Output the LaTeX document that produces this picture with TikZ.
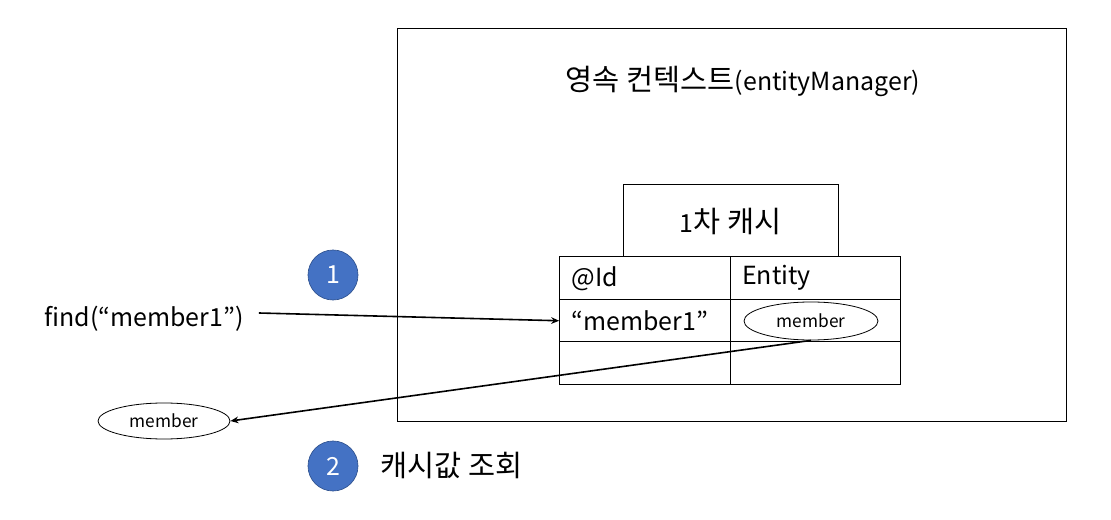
\documentclass[tikz,border=0pt]{standalone}
\usepackage{fontspec}
\setmainfont{Noto Sans CJK KR}
\newfontfamily\krfont[Scale=1.18]{Noto Sans CJK KR}
\usetikzlibrary{arrows.meta,positioning,shapes.geometric}
\definecolor{stepblue}{HTML}{4472C4}
\definecolor{stepedge}{HTML}{2F528F}

\begin{document}
\begin{tikzpicture}[x=0.75pt,y=-0.75pt,>={Stealth[length=6pt,width=5pt]},every node/.style={font=\fontsize{18.7}{22}\selectfont}]
  \tikzset{
    cell/.style={draw,line width=0.75pt,minimum height=31.875pt,text width=110pt,inner xsep=9pt,inner ysep=0pt,align=left},
    obj/.style={ellipse,draw,line width=0.6pt,inner sep=0pt,font=\fontsize{13}{15}\selectfont},
    stepnum/.style={circle,fill=stepblue,draw=stepedge,line width=0.5pt,minimum size=37.5pt,inner sep=0pt,text=white},
    flow/.style={->,line width=1.2pt}
  }
  \useasboundingbox (0,0) rectangle (1111,520);
  % persistence context
  \node[draw,line width=0.75pt,minimum width=501.75pt,minimum height=294.75pt,inner sep=0pt] (ctx) at (731.5,225.5) {};
  \node (title) at (743,81) {{\krfont 영속 컨텍스트}(entityManager)};
  % first-level cache table
  \node[draw,line width=0.75pt,minimum width=161.25pt,minimum height=54pt,inner sep=0pt] (cache) at (730.5,221) {1{\krfont 차 캐시}};
  \node[cell] (hid) at (645,278.25) {@Id};
  \node[cell] (hent) at (815.5,278.25) {Entity};
  \node[cell] (k1) at (645,320.75) {“member1”};
  \node[cell] (v1) at (815.5,320.75) {};
  \node[cell] (k2) at (645,363.25) {};
  \node[cell] (v2) at (815.5,363.25) {};
  \node[obj,minimum width=100.5pt,minimum height=28.5pt] (cached) at (811,321) {member};
  % request
  \node[anchor=west] (find) at (40,319) {find(“member1”)};
  \node[stepnum] (n1) at (333,275) {1};
  \draw[flow] ([xshift=8pt,yshift=4.5pt]find.east) -- (k1.west);
  % result
  \node[obj,minimum width=99pt,minimum height=27pt] (fetched) at (164,421) {member};
  \draw[flow] (cached.south) -- (fetched.east);
  \node[stepnum] (n2) at (333,466) {2};
  \node[anchor=west] (lookup) at (376,465) {\krfont 캐시값 조회};
\end{tikzpicture}
\end{document}
